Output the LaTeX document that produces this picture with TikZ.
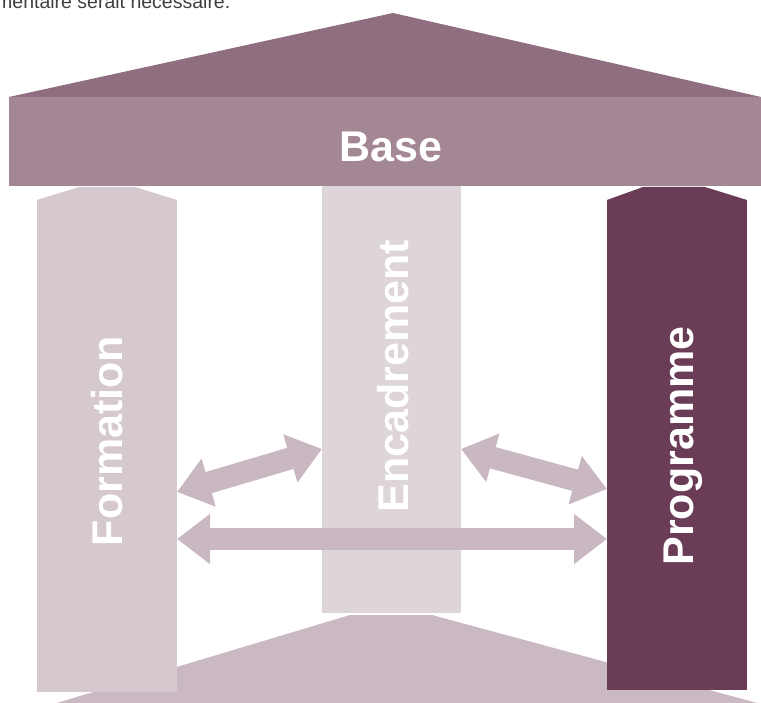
\documentclass[tikz,border=0pt]{standalone}
\usepackage{fontspec}
\setmainfont{Liberation Sans}
\usetikzlibrary{arrows.meta}
\definecolor{roofc}{HTML}{8E6E7F}
\definecolor{barc}{HTML}{A48795}
\definecolor{formc}{HTML}{D5C8CF}
\definecolor{encc}{HTML}{DED5DA}
\definecolor{progc}{HTML}{6A3C56}
\definecolor{floorc}{HTML}{CAB9C3}
\definecolor{arrc}{HTML}{C9B8C2}
\definecolor{txtc}{HTML}{3F3F3F}
\tikzset{
  pillar/.style={draw=none, inner sep=0pt, outer sep=0pt, minimum width=140pt},
  plabel/.style={text=white, font=\bfseries\fontsize{43}{43}\selectfont, rotate=90, anchor=base, inner sep=0pt},
  dblarrow/.style={draw=arrc, line width=22pt,
    {Triangle[length=33pt,width=48pt]}-{Triangle[length=33pt,width=48pt]}}
}
\begin{document}
\begin{tikzpicture}[x=1pt,y=-1pt]
\useasboundingbox (0,0) rectangle (761,703);
\clip (0,0) rectangle (761,703);
% cut-off text at top
\node[anchor=base west, inner sep=0pt, text=txtc, font=\fontsize{19.5}{20}\selectfont] (toptext) at (-4,9) {mentaire serait nécessaire.};
% floor
\fill[floorc] (350,615) -- (432,615) -- (761,704) -- (761,760) -- (0,760) -- (0,720) -- cycle;
% roof
\fill[roofc] (9,97) -- (393,13) -- (761,97) -- cycle;
% base bar
\node[fill=barc, inner sep=0pt, outer sep=0pt, minimum width=752pt, minimum height=89pt, anchor=north west] (base) at (9,97) {};
\node[text=white, font=\bfseries\fontsize{43}{43}\selectfont, anchor=base, inner sep=0pt] (basetxt) at (391,162) {Base};
% pillar caps
\fill[formc] (37,200) -- (79,187) -- (135,187) -- (177,200) -- cycle;
\fill[progc] (607,200) -- (643,187) -- (705,187) -- (747,200) -- cycle;
% pillars
\node[pillar, fill=formc, minimum height=492pt, anchor=north west] (form) at (37,200) {};
\node[pillar, fill=encc, minimum width=139pt, minimum height=427pt, anchor=north west] (enc) at (322,186) {};
\node[pillar, fill=progc, minimum height=490pt, anchor=north west] (prog) at (607,200) {};
% labels
\node[plabel] (formtxt) at (122,441) {Formation};
\node[plabel] (enctxt) at (408,376) {Encadrement};
\node[plabel] (progtxt) at (693,446) {Programme};
% arrows
\coordinate (y1) at (0,492);
\coordinate (y2) at (0,449);
\coordinate (y3) at (0,489);
\coordinate (y4) at (0,539);
\draw[dblarrow] (form.east |- y1) -- (enc.west |- y2);
\draw[dblarrow] (enc.east |- y2) -- (prog.west |- y3);
\draw[dblarrow] (form.east |- y4) -- (prog.west |- y4);
\end{tikzpicture}
\end{document}
